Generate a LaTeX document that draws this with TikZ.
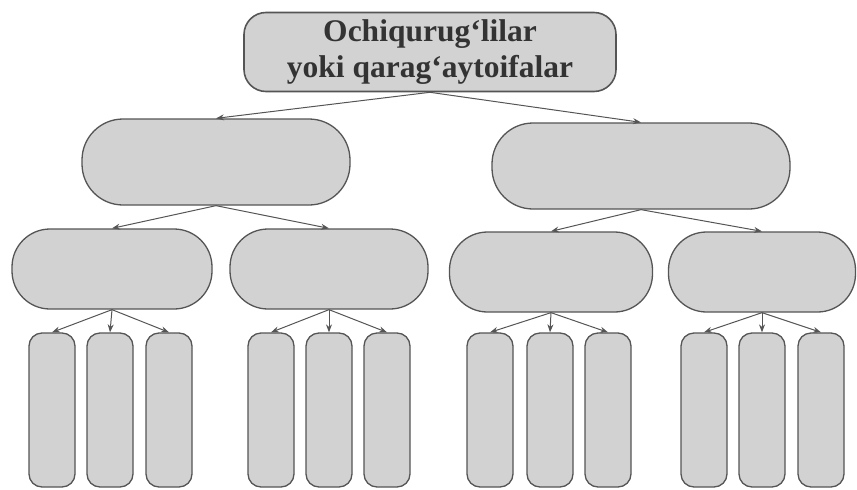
\documentclass[tikz,border=0pt]{standalone}
\usepackage{fontspec}
\setmainfont{Liberation Serif}
\definecolor{boxline}{HTML}{555555}
\definecolor{boxfill}{HTML}{D2D2D2}
\usepackage{tikz}
\usetikzlibrary{arrows.meta}

\begin{document}
\begin{tikzpicture}[x=1pt, y=-1pt,
  rootbox/.style={draw=boxline, fill=boxfill, line width=1.6pt,
                  rounded corners=22pt, minimum width=372pt, minimum height=79pt,
                  align=center, inner sep=2pt, text=black!80,
                  font=\fontsize{31.5}{36}\selectfont\bfseries},
  groupbox/.style={draw=boxline, fill=boxfill, line width=1.3pt,
                   rounded corners=41pt, minimum height=86pt},
  kindbox/.style={draw=boxline, fill=boxfill, line width=1.3pt,
                  rounded corners=38pt, minimum height=80pt},
  leafbox/.style={draw=boxline, fill=boxfill, line width=1.3pt,
                  rounded corners=13pt, minimum width=46pt, minimum height=154pt},
  link/.style={draw=boxline, line width=1pt, -{Stealth[length=8pt, width=6pt]}},
]
\useasboundingbox (0,0) rectangle (857,490);

\node[rootbox] (root) at (430,52) {Ochiqurug‘lilar\\yoki qarag‘aytoifalar};

\node[groupbox, minimum width=268pt] (g1) at (216,162) {};
\node[groupbox, minimum width=298pt] (g2) at (641,166) {};

\node[kindbox, minimum width=200pt] (k1) at (112,269) {};
\node[kindbox, minimum width=198pt] (k2) at (329,269) {};
\node[kindbox, minimum width=203pt] (k3) at (551,272) {};
\node[kindbox, minimum width=187pt] (k4) at (762,272) {};

\node[leafbox] (l1) at (52,410) {};
\node[leafbox] (l2) at (110,410) {};
\node[leafbox] (l3) at (169,410) {};
\node[leafbox] (l4) at (271,410) {};
\node[leafbox] (l5) at (329,410) {};
\node[leafbox] (l6) at (387,410) {};
\node[leafbox] (l7) at (490,410) {};
\node[leafbox] (l8) at (550,410) {};
\node[leafbox] (l9) at (608,410) {};
\node[leafbox] (l10) at (704,410) {};
\node[leafbox] (l11) at (762,410) {};
\node[leafbox] (l12) at (821,410) {};

\draw[link] (root.south) -- (g1.north);
\draw[link] (root.south) -- (g2.north);
\draw[link] (g1.south) -- (k1.north);
\draw[link] (g1.south) -- (k2.north);
\draw[link] (g2.south) -- (k3.north);
\draw[link] (g2.south) -- (k4.north);
\draw[link] (k1.south) -- (l1.north);
\draw[link] (k1.south) -- (l2.north);
\draw[link] (k1.south) -- (l3.north);
\draw[link] (k2.south) -- (l4.north);
\draw[link] (k2.south) -- (l5.north);
\draw[link] (k2.south) -- (l6.north);
\draw[link] (k3.south) -- (l7.north);
\draw[link] (k3.south) -- (l8.north);
\draw[link] (k3.south) -- (l9.north);
\draw[link] (k4.south) -- (l10.north);
\draw[link] (k4.south) -- (l11.north);
\draw[link] (k4.south) -- (l12.north);
\end{tikzpicture}
\end{document}
